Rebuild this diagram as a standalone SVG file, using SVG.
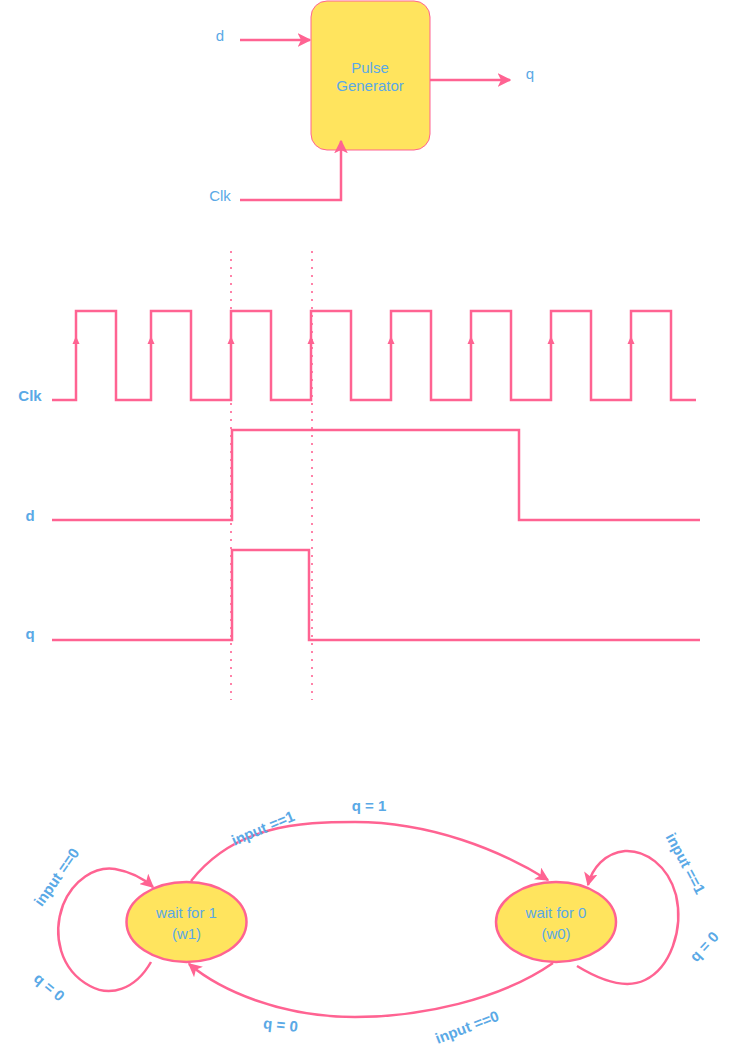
<svg xmlns="http://www.w3.org/2000/svg" width="738" height="1057" viewBox="0 0 738 1057">
<defs>
<style>
.w{fill:none;stroke:#FF6392;stroke-width:2.5}
.c{fill:none;stroke:#FF6392;stroke-width:2.5}
.dot{fill:none;stroke:#FF6392;stroke-width:2;stroke-dasharray:2 6;opacity:0.8}
.t{font-family:"Liberation Sans",Arial,sans-serif;font-size:15px;fill:#5AA9E6;text-anchor:middle}
.b{font-family:"Liberation Sans",Arial,sans-serif;font-size:15px;font-weight:bold;fill:#5AA9E6;text-anchor:middle}
.node{fill:#FFE45E;stroke:#FF6392;stroke-width:2.5}
.ah{fill:#FF6392}
</style>
<marker id="arr" viewBox="0 0 10 10" refX="9" refY="5" markerWidth="5.5" markerHeight="5.5" orient="auto" markerUnits="strokeWidth">
<path d="M0,0 L10,5 L0,10 L2.5,5 Z" fill="#FF6392"/>
</marker>
</defs>
<rect width="738" height="1057" fill="#ffffff"/>

<g id="pulse-generator">
<rect x="311" y="1" width="119" height="149" rx="16" fill="#FFE45E" stroke="#FF6392" stroke-width="1"/>
<text class="t" x="370" y="73">Pulse</text>
<text class="t" x="370" y="91">Generator</text>
</g>
<g id="io-labels">
<text class="t" x="220" y="41">d</text>
<text class="t" x="530" y="79">q</text>
<text class="t" x="220" y="201">Clk</text>
</g>
<g id="connectors">
<path class="c" d="M240,40 L310,40" marker-end="url(#arr)"/>
<path class="c" d="M430,80 L510,80" marker-end="url(#arr)"/>
<path class="c" d="M240,200 L341,200 L341,141" marker-end="url(#arr)"/>
</g>

<g id="timing">
<line class="dot" x1="231" y1="251" x2="231" y2="700"/>
<line class="dot" x1="312" y1="251" x2="312" y2="700"/>
<text class="b" x="30" y="401">Clk</text>
<text class="b" x="30" y="521">d</text>
<text class="b" x="30" y="639">q</text>
<path class="w" d="M52,400 H76 V311 H116 V400 H151 V311 H191 V400 H231 V311 H271 V400 H311 V311 H351 V400 H391 V311 H431 V400 H471 V311 H511 V400 H551 V311 H591 V400 H631 V311 H671 V400 H696"/>
<g class="ah">
<path d="M76,336 L79.5,344 L72.5,344 Z"/>
<path d="M151,336 L154.5,344 L147.5,344 Z"/>
<path d="M231,336 L234.5,344 L227.5,344 Z"/>
<path d="M311,336 L314.5,344 L307.5,344 Z"/>
<path d="M391,336 L394.5,344 L387.5,344 Z"/>
<path d="M471,336 L474.5,344 L467.5,344 Z"/>
<path d="M551,336 L554.5,344 L547.5,344 Z"/>
<path d="M631,336 L634.5,344 L627.5,344 Z"/>
</g>
<path class="w" d="M52,520 H232 V430 H519 V520 H700"/>
<path class="w" d="M52,640 H232 V550 H309 V640 H700"/>
</g>

<g id="state-w1">
<ellipse class="node" cx="186.5" cy="922" rx="60" ry="40"/>
<text class="t" x="186.5" y="918">wait for 1</text>
<text class="t" x="186.5" y="939">(w1)</text>
</g>
<g id="state-w0">
<ellipse class="node" cx="556" cy="922" rx="60" ry="40"/>
<text class="t" x="556" y="918">wait for 0</text>
<text class="t" x="556" y="939">(w0)</text>
</g>

<g id="transitions">
<path class="c" d="M191,881 C235,825 300,822 355,822 C430,822 500,850 548,880" marker-end="url(#arr)"/>
<path class="c" d="M553,963 C500,1000 420,1017 355,1017 C280,1017 220,990 189,964" marker-end="url(#arr)"/>
<path class="c" d="M151,962 C135,990 110,997 90,986 C60,970 52,935 63,905 C73,880 95,866 115,869 C132,872 145,880 153,887" marker-end="url(#arr)"/>
<path class="c" d="M577,966 C600,980 625,990 645,980 C670,968 684,930 676,895 C668,865 645,850 625,851 C605,853 592,868 588,885" marker-end="url(#arr)"/>
</g>
<g id="transition-labels">
<text class="b" transform="translate(265,833) rotate(-23)">input ==1</text>
<text class="b" x="369" y="811">q = 1</text>
<text class="b" transform="translate(61,880) rotate(-55)">input ==0</text>
<text class="b" transform="translate(46,991) rotate(40)">q = 0</text>
<text class="b" transform="translate(280,1030) rotate(6)">q = 0</text>
<text class="b" transform="translate(469,1032) rotate(-21)">input ==0</text>
<text class="b" transform="translate(681,866) rotate(62)">input ==1</text>
<text class="b" transform="translate(708,950) rotate(-47)">q = 0</text>
</g>
</svg>
